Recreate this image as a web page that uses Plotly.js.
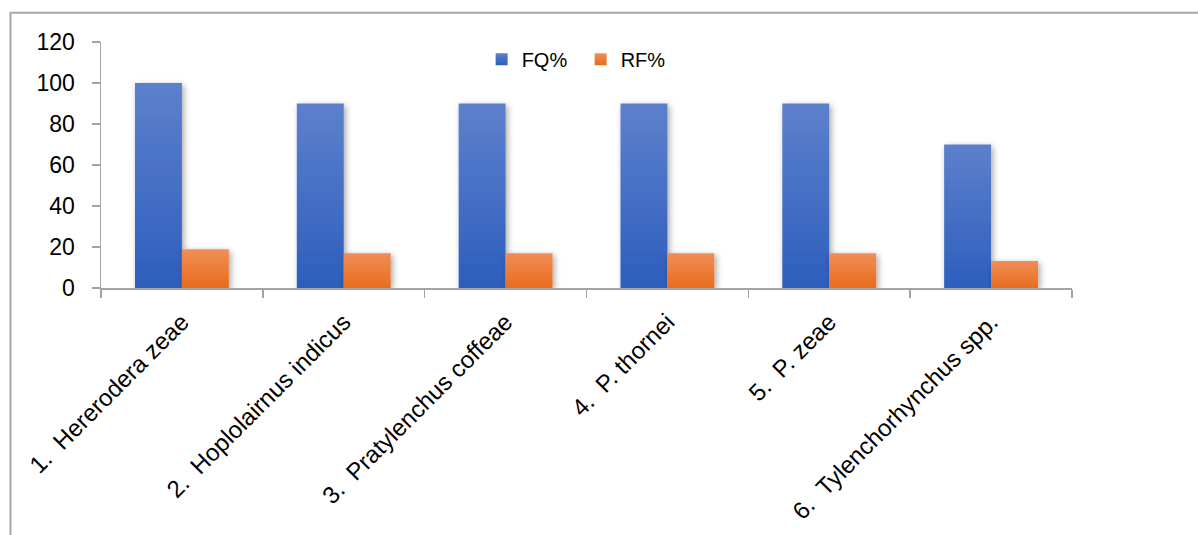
<!DOCTYPE html>
<html>
<head>
<meta charset="utf-8">
<script src="https://cdn.plot.ly/plotly-3.0.1.min.js"></script>
<style>
  html, body { margin: 0; padding: 0; background: #ffffff; }
  #chart { width: 1198px; height: 535px; }
</style>
</head>
<body>
<div id="chart"></div>
<script>
// Nematode species (x-axis categories)
const species = [
  "1. \u00a0Hererodera zeae",
  "2. \u00a0Hoplolairnus indicus",
  "3. \u00a0Pratylenchus coffeae",
  "4. \u00a0P. thornei",
  "5. \u00a0P. zeae",
  "6. \u00a0Tylenchorhynchus spp."
];
// Frequency of occurrence (%)
const fqValues = [100, 90, 90, 90, 90, 70];
// Relative frequency (%)
const rfValues = [18.9, 17.0, 17.0, 17.0, 17.0, 13.2];
// Y-axis ticks
const yTicks = [0, 20, 40, 60, 80, 100, 120];

const FONT = "'Liberation Sans', Arial, sans-serif";
const AXIS_GREY = "#a3a3a3";

const traces = [
  {
    type: "bar", name: "FQ%", x: species, y: fqValues,
    marker: { color: "#4472c4", line: { width: 0 } }
  },
  {
    type: "bar", name: "RF%", x: species, y: rfValues,
    marker: { color: "#ed7d31", line: { width: 0 } }
  }
];

const layout = {
  width: 1198, height: 535,
  margin: { l: 101, r: 126, t: 42, b: 247, pad: 0 },
  paper_bgcolor: "#ffffff", plot_bgcolor: "#ffffff",
  font: { family: FONT, color: "#000000", size: 22 },
  barmode: "group", bargap: 0.42, bargroupgap: 0,
  showlegend: true,
  legend: {
    orientation: "h", x: 0.392, xanchor: "left", y: 0.93, yanchor: "middle",
    font: { family: FONT, size: 20, color: "#000000" },
    entrywidth: 54, entrywidthmode: "pixels",
    bgcolor: "rgba(0,0,0,0)", borderwidth: 0
  },
  xaxis: {
    type: "category", tickson: "boundaries",
    ticks: "outside", ticklen: 8, tickwidth: 1.5, tickcolor: AXIS_GREY,
    showline: true, linecolor: AXIS_GREY, linewidth: 1.5,
    showgrid: false, zeroline: false,
    tickangle: -45, tickfont: { family: FONT, size: 24, color: "#000000" },
    ticklabelstandoff: 9,
    automargin: false
  },
  yaxis: {
    range: [0, 120], tickvals: yTicks, ticktext: yTicks.map(String),
    ticks: "outside", ticklen: 8, tickwidth: 1.5, tickcolor: AXIS_GREY,
    showline: true, linecolor: AXIS_GREY, linewidth: 1.5,
    showgrid: false, zeroline: false,
    tickfont: { family: FONT, size: 23, color: "#000000" },
    ticklabelstandoff: 12,
    automargin: false
  },
  shapes: [
    // chart frame (top and left edges visible)
    {
      type: "rect", xref: "paper", yref: "paper",
      x0: -0.0932, x1: 1.3, y0: -1.5, y1: 1.119,
      line: { color: "#a6a6a6", width: 2 }, fillcolor: "rgba(0,0,0,0)",
      layer: "below"
    }
  ]
};

function addFinish(gd) {
  const svg = gd.querySelector(".main-svg");
  const ns = "http://www.w3.org/2000/svg";
  let defs = svg.querySelector("defs");
  if (!defs) { defs = document.createElementNS(ns, "defs"); svg.insertBefore(defs, svg.firstChild); }

  function gradient(id, top, bottom) {
    const g = document.createElementNS(ns, "linearGradient");
    g.setAttribute("id", id);
    g.setAttribute("x1", "0"); g.setAttribute("y1", "0");
    g.setAttribute("x2", "0"); g.setAttribute("y2", "1");
    [[0, top], [1, bottom]].forEach(([o, c]) => {
      const s = document.createElementNS(ns, "stop");
      s.setAttribute("offset", o); s.setAttribute("stop-color", c);
      g.appendChild(s);
    });
    defs.appendChild(g);
  }
  gradient("gradFQ", "#5d80cc", "#2d5ebd");
  gradient("gradRF", "#f08e57", "#e86c1d");

  const f = document.createElementNS(ns, "filter");
  f.setAttribute("id", "barShadow");
  f.setAttribute("x", "-30%"); f.setAttribute("y", "-10%");
  f.setAttribute("width", "170%"); f.setAttribute("height", "130%");
  const ds = document.createElementNS(ns, "feDropShadow");
  ds.setAttribute("dx", "2"); ds.setAttribute("dy", "2");
  ds.setAttribute("stdDeviation", "3");
  ds.setAttribute("flood-color", "#000000"); ds.setAttribute("flood-opacity", "0.35");
  f.appendChild(ds);
  defs.appendChild(f);

  const ids = ["gradFQ", "gradRF"];
  gd.querySelectorAll(".barlayer .trace").forEach((tr, i) => {
    tr.querySelectorAll(".point path").forEach(p => {
      p.style.fill = "url(#" + ids[i] + ")";
      p.setAttribute("filter", "url(#barShadow)");
    });
  });
  gd.querySelectorAll(".legend .traces").forEach((tr, i) => {
    tr.querySelectorAll(".legendpoints path").forEach(p => {
      p.style.fill = "url(#" + ids[i] + ")";
    });
  });
}

Plotly.newPlot("chart", traces, layout, { staticPlot: true, displayModeBar: false })
  .then(addFinish);
</script>
</body>
</html>
